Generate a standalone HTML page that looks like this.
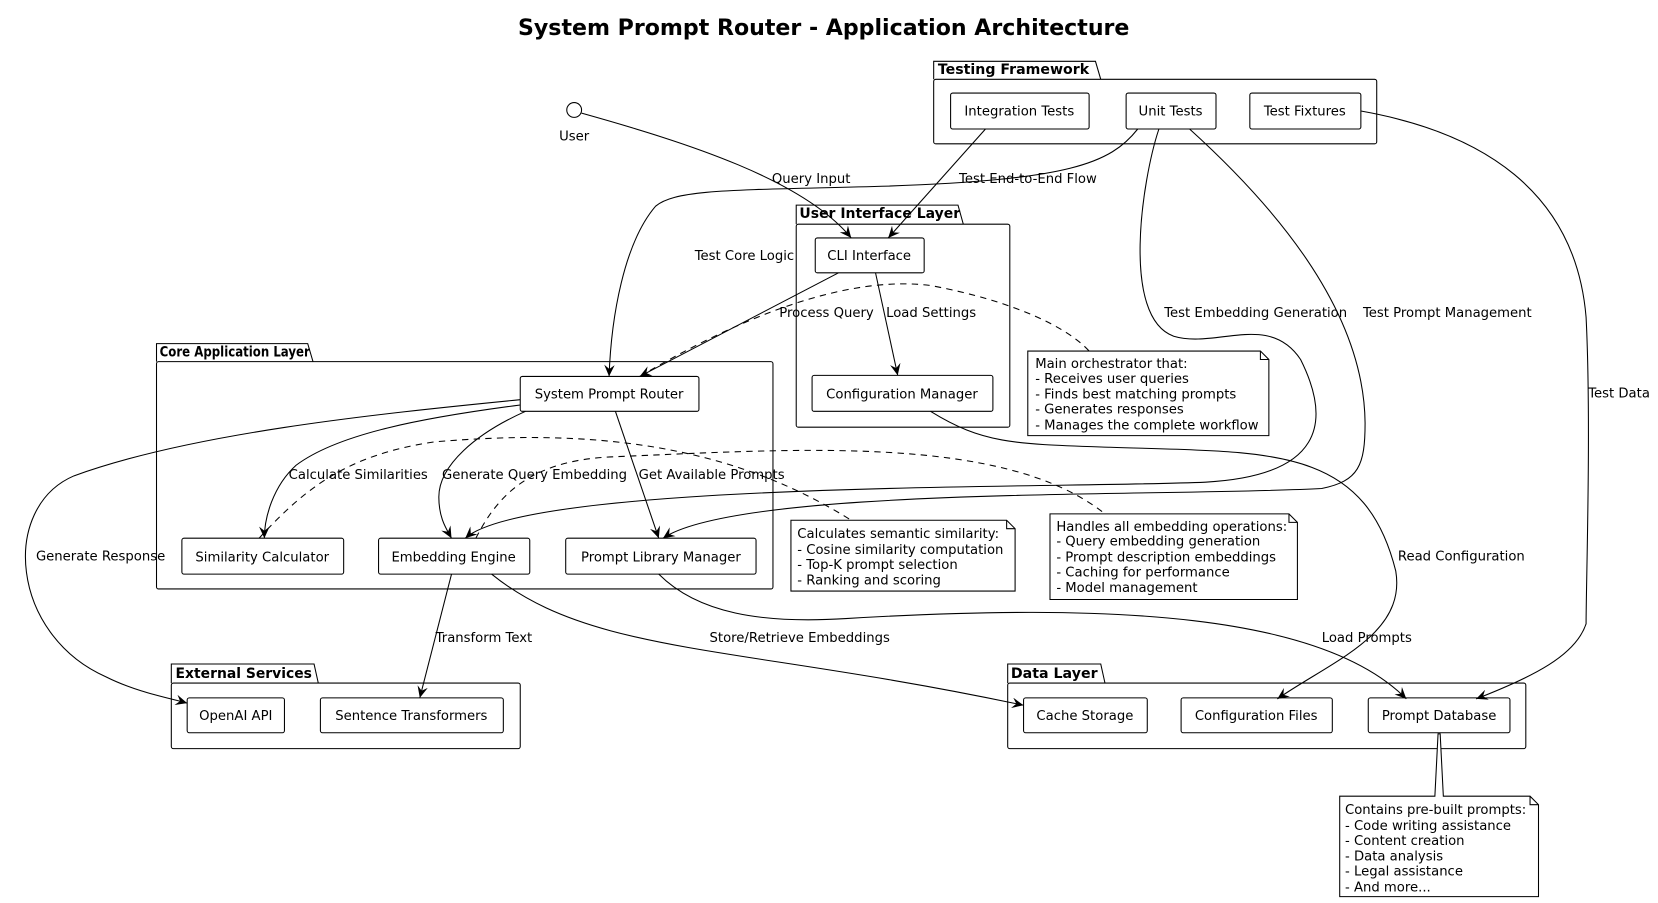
<!DOCTYPE html>
<html><head><meta charset="utf-8"><style>
html,body{margin:0;padding:0;background:#fff;}
svg{display:block;}
text{font-family:"DejaVu Sans","Liberation Sans",sans-serif;font-size:12.5px;fill:#000;}
.b{font-weight:bold;font-size:13px;}
.t{font-weight:bold;font-size:20.9px;}
.box{fill:#fff;stroke:#000;stroke-width:1;}
.e{fill:none;stroke:#000;stroke-width:1;}
.d{fill:none;stroke:#000;stroke-width:1;stroke-dasharray:6,5;}
</style></head><body>
<svg width="1658" height="903" viewBox="0 0 1568 854" xmlns="http://www.w3.org/2000/svg">
<defs><marker id="a" markerWidth="12" markerHeight="10" refX="11" refY="5" orient="auto" markerUnits="userSpaceOnUse"><path d="M0,0 L11,5 L0,10 L4,5 z" fill="#000"/></marker></defs>
<text class="t" x="779" y="33" text-anchor="middle">System Prompt Router - Application Architecture</text>

<!-- packages -->
<path class="box" d="M883,75 L883,58 L1036,58 L1041,75"/><rect class="box" x="883" y="75" width="419" height="61" rx="2"/>
<text class="b" x="887" y="70" textLength="143" lengthAdjust="spacingAndGlyphs">Testing Framework</text>
<path class="box" d="M753,212 L753,194 L906,194 L911,212"/><rect class="box" x="753" y="212" width="202" height="192" rx="2"/>
<text class="b" x="756" y="206" textLength="152" lengthAdjust="spacingAndGlyphs">User Interface Layer</text>
<path class="box" d="M148,342 L148,325 L291,325 L296,342"/><rect class="box" x="148" y="342" width="583" height="215" rx="2"/>
<text class="b" x="151" y="337" textLength="142" lengthAdjust="spacingAndGlyphs">Core Application Layer</text>
<path class="box" d="M162,646 L162,628 L297,628 L301,646"/><rect class="box" x="162" y="646" width="330" height="62" rx="2"/>
<text class="b" x="166" y="641" textLength="129" lengthAdjust="spacingAndGlyphs">External Services</text>
<path class="box" d="M953,646 L953,628 L1041,628 L1045,646"/><rect class="box" x="953" y="646" width="490" height="62" rx="2"/>
<text class="b" x="956" y="641" textLength="82" lengthAdjust="spacingAndGlyphs">Data Layer</text>

<!-- nodes -->
<g>
<rect class="box" x="899" y="88" width="131" height="34" rx="2"/><text x="964" y="109" text-anchor="middle">Integration Tests</text>
<rect class="box" x="1065" y="88" width="85" height="34" rx="2"/><text x="1107" y="109" text-anchor="middle">Unit Tests</text>
<rect class="box" x="1182" y="88" width="105" height="34" rx="2"/><text x="1234" y="109" text-anchor="middle">Test Fixtures</text>
<rect class="box" x="771" y="225" width="103" height="33" rx="2"/><text x="822" y="246" text-anchor="middle">CLI Interface</text>
<rect class="box" x="768" y="355" width="171" height="34" rx="2"/><text x="853" y="377" text-anchor="middle">Configuration Manager</text>
<rect class="box" x="492" y="356" width="169" height="33" rx="2"/><text x="576" y="377" text-anchor="middle">System Prompt Router</text>
<rect class="box" x="172" y="509" width="153" height="34" rx="2"/><text x="248" y="531" text-anchor="middle">Similarity Calculator</text>
<rect class="box" x="358" y="509" width="143" height="34" rx="2"/><text x="429" y="531" text-anchor="middle">Embedding Engine</text>
<rect class="box" x="535" y="509" width="180" height="34" rx="2"/><text x="625" y="531" text-anchor="middle">Prompt Library Manager</text>
<rect class="box" x="177" y="660" width="92" height="33" rx="2"/><text x="223" y="681" text-anchor="middle">OpenAI API</text>
<rect class="box" x="303" y="660" width="173" height="33" rx="2"/><text x="389" y="681" text-anchor="middle">Sentence Transformers</text>
<rect class="box" x="968" y="660" width="117" height="33" rx="2"/><text x="1026" y="681" text-anchor="middle">Cache Storage</text>
<rect class="box" x="1117" y="660" width="143" height="33" rx="2"/><text x="1188" y="681" text-anchor="middle">Configuration Files</text>
<rect class="box" x="1294" y="660" width="134" height="33" rx="2"/><text x="1361" y="681" text-anchor="middle">Prompt Database</text>
</g>

<!-- user -->
<circle cx="543" cy="104" r="7" fill="#fff" stroke="#000"/>
<text x="543" y="133" text-anchor="middle">User</text>

<!-- edges -->
<path class="e" marker-end="url(#a)" d="M550,107 C650,135 760,170 805,225"/>
<text x="730" y="173">Query Input</text>
<path class="e" marker-end="url(#a)" d="M932,122 L840,225"/>
<text x="907" y="173">Test End-to-End Flow</text>
<path class="e" marker-end="url(#a)" d="M1076,122 C1050,155 1010,170 840,176 C700,180 640,178 620,195 C590,230 578,300 576,356"/>
<text x="657" y="246">Test Core Logic</text>
<path class="e" marker-end="url(#a)" d="M1096,122 C1080,170 1060,300 1110,318 C1150,330 1200,295 1230,340 C1260,400 1250,450 1140,456 C1000,462 500,455 440,509"/>
<text x="1101" y="300">Test Embedding Generation</text>
<path class="e" marker-end="url(#a)" d="M1125,122 C1200,190 1290,290 1291,400 C1291,440 1285,455 1250,462 C1100,470 700,460 627,509"/>
<text x="1289" y="300">Test Prompt Management</text>
<path class="e" marker-end="url(#a)" d="M1287,105 C1400,125 1490,180 1500,300 C1505,400 1500,550 1500,590 C1490,620 1450,640 1396,661"/>
<text x="1502" y="376">Test Data</text>
<path class="e" marker-end="url(#a)" d="M793,258 L605,356"/>
<text x="737" y="300">Process Query</text>
<path class="e" marker-end="url(#a)" d="M828,258 L849,355"/>
<text x="838" y="300">Load Settings</text>
<path class="e" marker-end="url(#a)" d="M880,389 C930,420 960,420 1050,423 C1200,428 1290,420 1320,540 C1330,600 1260,625 1208,661"/>
<text x="1322" y="530">Read Configuration</text>
<path class="e" marker-end="url(#a)" d="M492,378 C350,392 180,410 70,450 C0,480 10,600 100,640 C130,655 160,660 177,665"/>
<text x="34" y="530">Generate Response</text>
<path class="e" marker-end="url(#a)" d="M492,383 C400,395 320,410 280,440 C258,460 250,490 250,509"/>
<text x="273" y="453">Calculate Similarities</text>
<path class="e" marker-end="url(#a)" d="M497,389 C450,410 415,440 415,470 C415,490 422,500 427,509"/>
<text x="418" y="453">Generate Query Embedding</text>
<path class="e" marker-end="url(#a)" d="M582,389 L623,509"/>
<text x="604" y="453">Get Available Prompts</text>
<path class="e" marker-end="url(#a)" d="M427,543 L397,660"/>
<text x="412" y="607">Transform Text</text>
<path class="e" marker-end="url(#a)" d="M465,543 C560,620 700,610 968,667"/>
<text x="671" y="607">Store/Retrieve Embeddings</text>
<path class="e" marker-end="url(#a)" d="M623,543 C660,580 720,590 800,585 C1050,570 1250,580 1330,661"/>
<text x="1250" y="607">Load Prompts</text>

<!-- notes -->
<path class="d" d="M605,356 C700,300 800,260 880,270 C960,285 1010,310 1030,332"/>
<path class="d" d="M245,509 C290,460 330,430 410,418 C560,405 690,420 805,492"/>
<path class="d" d="M450,509 C470,470 500,435 580,432 C750,425 950,410 1045,486"/>

<path class="box" d="M972,332 L1192,332 L1200,340 L1200,412 L972,412 Z"/><path class="e" d="M1192,332 L1192,340 L1200,340"/>
<text x="979" y="348">Main orchestrator that:</text><text x="979" y="362">- Receives user queries</text><text x="979" y="377">- Finds best matching prompts</text><text x="979" y="391">- Generates responses</text><text x="979" y="406">- Manages the complete workflow</text>

<path class="box" d="M748,492 L952,492 L960,500 L960,559 L748,559 Z"/><path class="e" d="M952,492 L952,500 L960,500"/>
<text x="754" y="509">Calculates semantic similarity:</text><text x="754" y="524">- Cosine similarity computation</text><text x="754" y="538">- Top-K prompt selection</text><text x="754" y="553">- Ranking and scoring</text>

<path class="box" d="M993,486 L1219,486 L1227,494 L1227,567 L993,567 Z"/><path class="e" d="M1219,486 L1219,494 L1227,494"/>
<text x="999" y="502">Handles all embedding operations:</text><text x="999" y="516">- Query embedding generation</text><text x="999" y="531">- Prompt description embeddings</text><text x="999" y="545">- Caching for performance</text><text x="999" y="560">- Model management</text>

<path class="box" d="M1267,753 L1357,753 L1360,694 L1362,694 L1365,753 L1447,753 L1455,761 L1455,848 L1267,848 Z"/>
<path class="e" d="M1447,753 L1447,761 L1455,761"/>
<text x="1272" y="770">Contains pre-built prompts:</text><text x="1272" y="785">- Code writing assistance</text><text x="1272" y="799">- Content creation</text><text x="1272" y="814">- Data analysis</text><text x="1272" y="828">- Legal assistance</text><text x="1272" y="843">- And more...</text>
</svg>
</body></html>
